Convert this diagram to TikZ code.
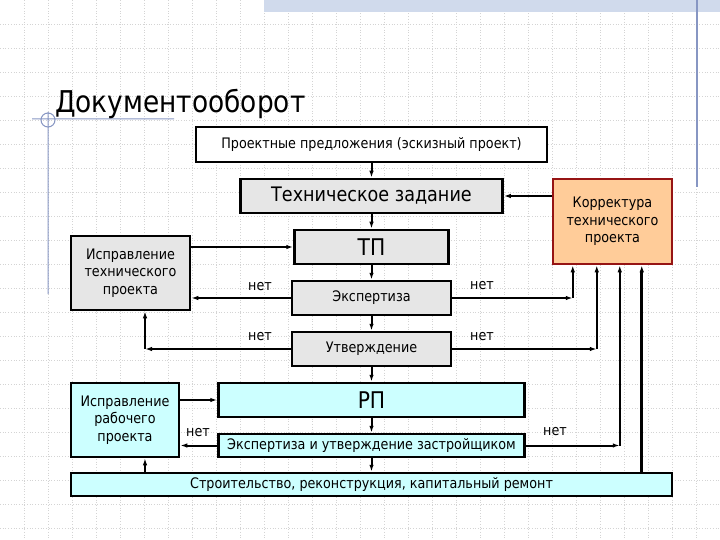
\documentclass[tikz,border=0pt]{standalone}
\usepackage{fontspec}
\setmainfont[FakeStretch=0.88]{DejaVu Sans}
\usetikzlibrary{arrows.meta}
\definecolor{boxgrey}{RGB}{230,230,230}
\definecolor{boxcyan}{RGB}{204,255,255}
\definecolor{boxorange}{RGB}{255,204,153}
\definecolor{boxred}{RGB}{150,20,20}
\definecolor{decoblue}{RGB}{135,150,195}
\definecolor{bandblue}{RGB}{208,218,236}
\definecolor{gridgrey}{RGB}{212,212,212}

\begin{document}
\begin{tikzpicture}[x=1pt,y=-1pt]
\tikzstyle{box}=[draw,line width=2.5pt,inner sep=0pt,align=center,font=\fontsize{14.5}{17.5}\selectfont]
\tikzstyle{grey box}=[box,fill=boxgrey]
\tikzstyle{cyan box}=[box,fill=boxcyan]
\tikzstyle{big}=[font=\fontsize{20}{22}\selectfont]
\tikzstyle{bigger}=[font=\fontsize{23}{25}\selectfont]
\tikzstyle{conn}=[line width=2pt,-{Latex[length=7pt,width=4.5pt]}]
\tikzstyle{no}=[inner sep=0pt,font=\fontsize{14.5}{15}\selectfont]
\useasboundingbox (0,0) rectangle (720,540);
% slide background
\foreach \gx in {24,48,...,696} \draw[gridgrey,dotted,line width=0.7pt] (\gx,0) -- (\gx,540);
\foreach \gy in {24,48,...,528} \draw[gridgrey,dotted,line width=0.7pt] (0,\gy) -- (720,\gy);
\fill[bandblue] (264,0) rectangle (720,12);
\draw[decoblue,line width=1.5pt] (697,0) -- (697,187);
\draw[decoblue,line width=1pt] (32,119) -- (174,119) (48,112) -- (48,294) (48,120) circle (7pt);
\node[anchor=base west,inner sep=0pt,font=\fontsize{30}{32}\selectfont] (title) at (55,113) {Документооборот};

% boxes
\node[box,fill=white,minimum width=351pt,minimum height=35pt] (pp) at (371.5,144.5) {Проектные предложения (эскизный проект)};
\node[grey box,big,minimum width=262pt,minimum height=34pt] (tz) at (371.5,196) {Техническое задание};
\node[grey box,bigger,minimum width=154pt,minimum height=34pt] (tp) at (371.5,247) {ТП};
\node[grey box,minimum width=159pt,minimum height=34pt] (ex) at (371.5,298) {\raisebox{-2pt}{Экспертиза}};
\node[grey box,minimum width=159pt,minimum height=34pt] (ut) at (371.5,349) {\raisebox{-2pt}{Утверждение}};
\node[cyan box,bigger,minimum width=306pt,minimum height=34pt] (rp) at (371.5,400) {РП};
\node[cyan box,minimum width=306pt,minimum height=23pt] (exz) at (371.5,445.5) {Экспертиза и утверждение застройщиком};
\node[cyan box,minimum width=601pt,minimum height=23pt] (st) at (371.5,484.5) {Строительство, реконструкция, капитальный ремонт};
\node[grey box,minimum width=119pt,minimum height=74pt] (itp) at (130.5,273) {Исправление\\технического\\проекта};
\node[cyan box,minimum width=108pt,minimum height=74pt] (irp) at (125,420) {Исправление\\рабочего\\проекта};
\node[box,draw=boxred,fill=boxorange,minimum width=119pt,minimum height=85pt] (kor) at (612.5,221.5) {Корректура\\технического\\проекта};

% main chain
\draw[conn] (pp) -- (tz);
\draw[conn] (tz) -- (tp);
\draw[conn] (tp) -- (ex);
\draw[conn] (ex) -- (ut);
\draw[conn] (ut) -- (rp);
\draw[conn] (rp) -- (exz);
\draw[conn] (exz) -- (st);

% left side
\coordinate (c1) at (145,349);
\draw[conn] (itp.east |- tp.west) -- (tp.west);
\draw[conn] (ex.west) -- (itp.east |- ex.west);
\draw[conn] (ut.west) -- (c1);
\draw[conn,line width=2.5pt] (c1) -- (c1 |- itp.south);
\draw[conn] (irp.east |- rp.west) -- (rp.west);
\draw[conn] (exz.west) -- (irp.east |- exz.west);
\draw[conn] (st.north -| c1) -- (irp.south -| c1);

% right side
\coordinate (k1) at ([xshift=21pt]kor.south west);
\coordinate (k2) at ([xshift=45pt]kor.south west);
\coordinate (k3) at ([xshift=68pt]kor.south west);
\coordinate (k4) at ([xshift=90pt]kor.south west);
\draw[conn] (kor.west |- tz.east) -- (tz.east);
\draw[conn] (ex.east) -- (ex.east -| k1);
\draw[conn] (ex.east -| k1) -- (k1);
\draw[conn] (ut.east) -- (ut.east -| k2);
\draw[conn] (ut.east -| k2) -- (k2);
\draw[conn] (exz.east) -- (exz.east -| k3);
\draw[conn] (exz.east -| k3) -- (k3);
\draw[conn,line width=3pt] (st.north -| k4) -- (k4);

% labels
\node[no] (no1) at (260,287) {нет};
\node[no] (no2) at (260,337) {нет};
\node[no] (no3) at (482,286) {нет};
\node[no] (no4) at (482,337) {нет};
\node[no] (no5) at (555,432) {нет};
\node[no] (no6) at (198,433) {нет};
\end{tikzpicture}
\end{document}
